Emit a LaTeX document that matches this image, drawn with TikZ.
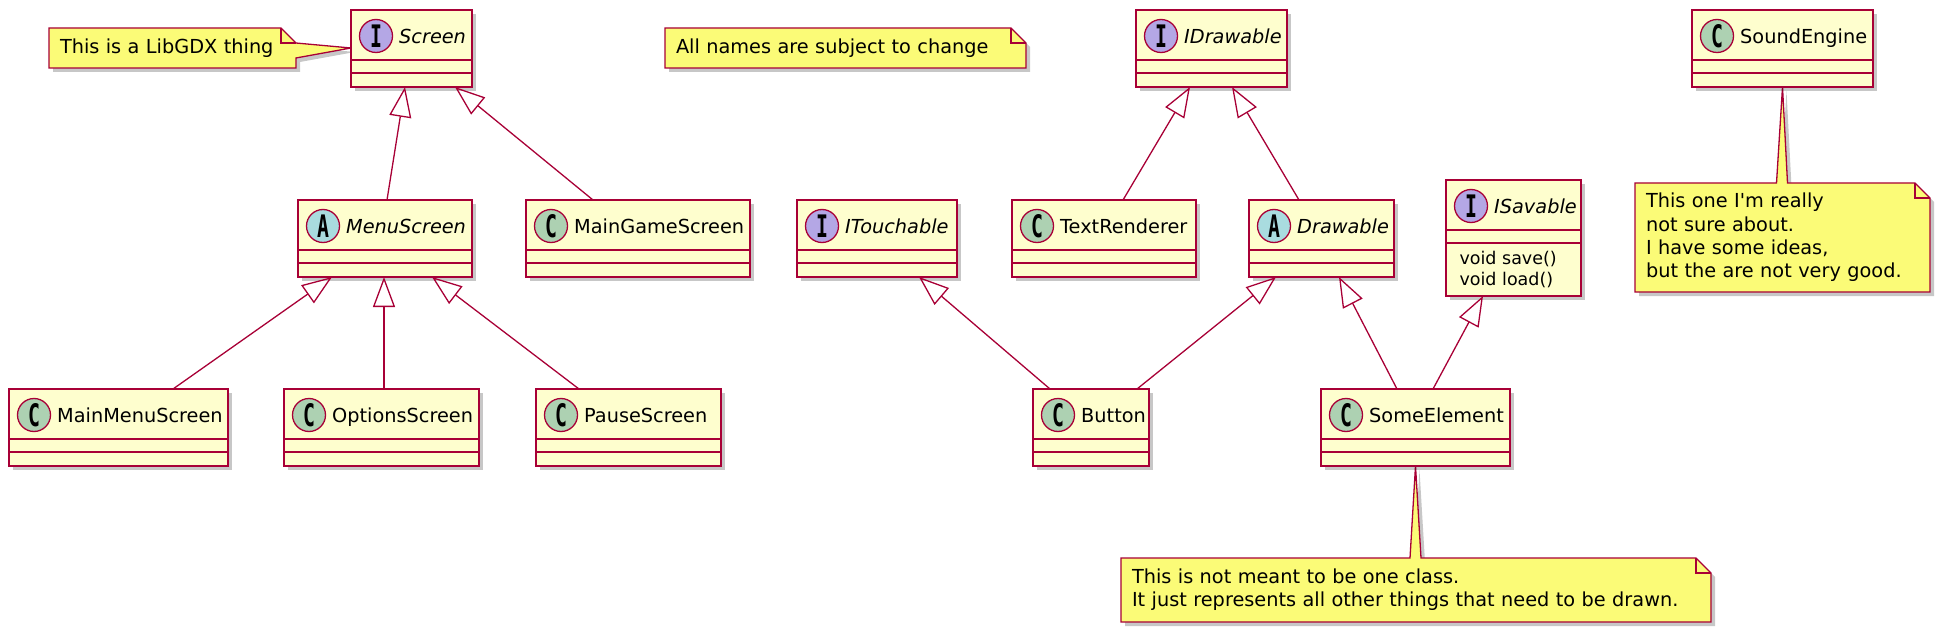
\documentclass[tikz,border=0pt]{standalone}
\usepackage{fontspec}
\usepackage{graphicx}
\setmainfont{DejaVu Sans}
\newfontfamily\spotfont{DejaVu Sans Mono}
\newcommand{\spotletter}[1]{\scalebox{0.64}[1]{\spotfont\bfseries #1}}
\usetikzlibrary{arrows.meta,shadows,calc,backgrounds}

\definecolor{umlred}{HTML}{A80036}
\definecolor{umlfill}{HTML}{FEFECE}
\definecolor{notefill}{HTML}{FBFB77}
\definecolor{spotC}{HTML}{ADD1B2}
\definecolor{spotI}{HTML}{B4A7E5}
\definecolor{spotA}{HTML}{A9DCDF}

% class box: [height] name, left, top, width, spot letter, title
\newcommand{\umlclass}[7][77]{%
  \node[classbox, minimum width=#5pt, minimum height=#1pt] (#2) at (#3,#4) {};
  \node[spot, fill=spot#6] (#2S) at ([xshift=25pt, yshift=-26pt]#2.north west) {\spotletter{#6}};
  \node[anchor=base west, inner sep=0pt] (#2T) at ([xshift=48pt, yshift=-33.5pt]#2.north west) {#7};%
}

\begin{document}
\begin{tikzpicture}[x=1pt, y=-1pt, font=\fontsize{19.3}{23.3}\selectfont,
    shade/.style={drop shadow={shadow xshift=4pt, shadow yshift=-4pt, fill=black, opacity=0.22}},
    classbox/.style={anchor=north west, draw=umlred, fill=umlfill, line width=2pt,
      inner sep=0pt, outer sep=0pt, shade,
      path picture={\draw[umlred, line width=2pt]
        ([yshift=-50pt]path picture bounding box.north west) -- ++(1000pt,0)
        ([yshift=-63pt]path picture bounding box.north west) -- ++(1000pt,0);}},
    spot/.style={circle, draw=umlred, line width=1.3pt, minimum size=33pt, inner sep=0pt,
      font=\fontsize{31}{31}\selectfont},
    gen/.style={-{Triangle[open, length=30pt, width=22pt]}, umlred, line width=1.3pt},
    note/.style={anchor=north west, inner xsep=11pt, inner ysep=0pt, outer sep=0pt, align=left},
    noteline/.style={draw=umlred, fill=notefill, line width=1.3pt, shade}]
  \useasboundingbox (0,0) rectangle (1938,631);

  % classes
  \umlclass{Scr}{351}{10}{121}{I}{\itshape Screen}
  \umlclass{IDr}{1136}{10}{151}{I}{\itshape IDrawable}
  \umlclass{Snd}{1692}{10}{181}{C}{SoundEngine}
  \umlclass{Menu}{298}{200}{174}{A}{\itshape MenuScreen}
  \umlclass{MGS}{526}{200}{224}{C}{MainGameScreen}
  \umlclass{ITou}{797}{200}{160}{I}{\itshape ITouchable}
  \umlclass{TxtR}{1012}{200}{184}{C}{TextRenderer}
  \umlclass{Drw}{1249}{200}{145}{A}{\itshape Drawable}
  \umlclass[116]{ISav}{1446}{180}{135}{I}{\itshape ISavable}
  \umlclass{MMS}{9}{389}{219}{C}{MainMenuScreen}
  \umlclass{Opt}{284}{389}{195}{C}{OptionsScreen}
  \umlclass{Pause}{536}{389}{185}{C}{PauseScreen}
  \umlclass{Btn}{1033}{389}{116}{C}{Button}
  \umlclass{Some}{1321}{389}{189}{C}{SomeElement}
  \node[anchor=west, align=left, font=\fontsize{17.5}{20.7}\selectfont] (ISavM)
    at ([xshift=10pt, yshift=-89.5pt]ISav.north west) {void save()\\void load()};

  % notes
  \node[note, text width=225pt, minimum height=40pt] (LibN) at (49,28) {This is a LibGDX thing};
  \node[note, text width=339pt, minimum height=40pt] (NameN) at (665,28) {All names are subject to change};
  \node[note, text width=273pt, minimum height=109pt] (SndN) at (1635,183)
    {This one I\textquotesingle m really\\not sure about.\\I have some ideas,\\but the are not very good.};
  \node[note, text width=568pt, minimum height=64pt] (SomeN) at (1121,558)
    {This is not meant to be one class.\\It just represents all other things that need to be drawn.};

  \begin{scope}[on background layer]
    \draw[noteline] (LibN.south west) -- (LibN.north west) -- ([xshift=-15pt]LibN.north east)
      -- ([yshift=-15pt]LibN.north east) -- ([yshift=-38pt]Scr.north west)
      -- ([yshift=-30pt]LibN.north east) -- (LibN.south east) -- cycle;
    \draw[noteline] (NameN.south west) -- (NameN.north west) -- ([xshift=-15pt]NameN.north east)
      -- ([yshift=-15pt]NameN.north east) -- (NameN.south east) -- cycle;
    \draw[noteline] (SndN.south west) -- (SndN.north west) -- ($(Snd.south |- SndN.north)+(-6,0)$)
      -- (Snd.south) -- ($(Snd.south |- SndN.north)+(5,0)$) -- ([xshift=-15pt]SndN.north east)
      -- ([yshift=-15pt]SndN.north east) -- (SndN.south east) -- cycle;
    \draw[noteline] (SomeN.south west) -- (SomeN.north west) -- ($(Some.south |- SomeN.north)+(-5.5,0)$)
      -- (Some.south) -- ($(Some.south |- SomeN.north)+(5.5,0)$) -- ([xshift=-15pt]SomeN.north east)
      -- ([yshift=-15pt]SomeN.north east) -- (SomeN.south east) -- cycle;
    \foreach \n in {LibN,NameN,SndN,SomeN}
      \draw[umlred, line width=1.3pt] ([xshift=-15pt]\n.north east) -- ++(0,-15pt) -- ++(15pt,0);
  \end{scope}

  % generalisations
  \draw[gen] ([xshift=2pt]Menu.north) -- ([xshift=-6.5pt]Scr.south);
  \draw[gen] ([xshift=-45pt]MGS.north) -- ([xshift=43.5pt]Scr.south);
  \draw[gen] ([xshift=54.5pt]MMS.north) -- ([xshift=-53pt]Menu.south);
  \draw[gen] ([xshift=2.5pt]Opt.north) -- ([xshift=-1pt]Menu.south);
  \draw[gen] ([xshift=-49.5pt]Pause.north) -- ([xshift=47pt]Menu.south);
  \draw[gen] ([xshift=19pt]TxtR.north) -- ([xshift=-21.5pt]IDr.south);
  \draw[gen] ([xshift=-22.5pt]Drw.north) -- ([xshift=20.5pt]IDr.south);
  \draw[gen] ([xshift=-41pt]Btn.north) -- ([xshift=42pt]ITou.south);
  \draw[gen] ([xshift=46pt]Btn.north) -- ([xshift=-45.5pt]Drw.south);
  \draw[gen] ([xshift=-18.5pt]Some.north) -- ([xshift=17.5pt]Drw.south);
  \draw[gen] ([xshift=17.5pt]Some.north) -- ([xshift=-30.5pt]ISav.south);
\end{tikzpicture}
\end{document}
